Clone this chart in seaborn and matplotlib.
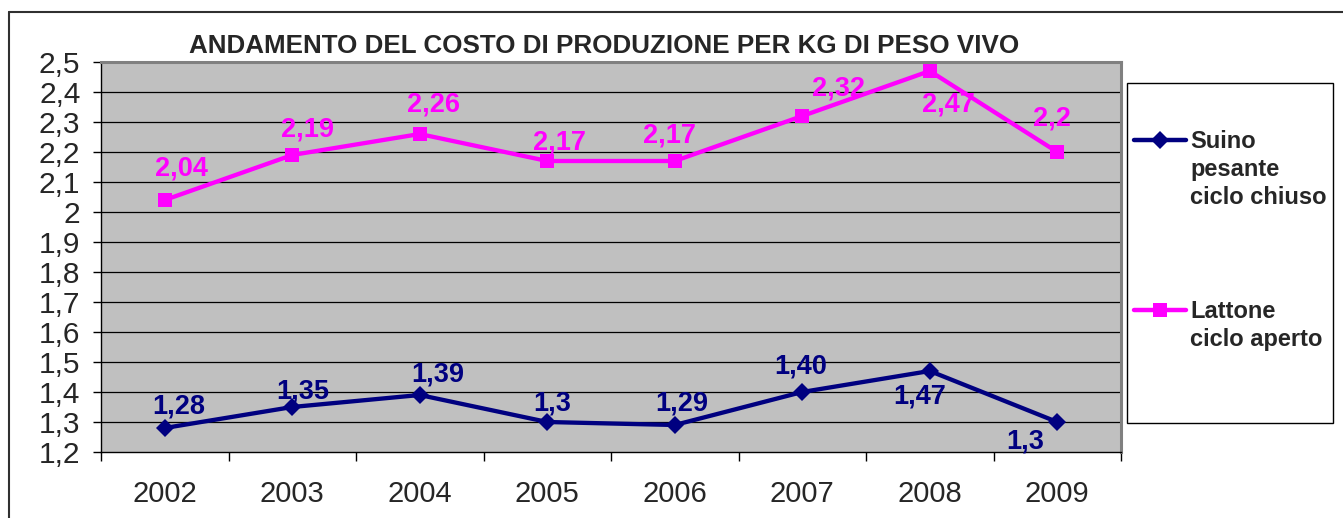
import numpy as np
import pandas as pd
import matplotlib
matplotlib.use("Agg")
import matplotlib.pyplot as plt
from matplotlib.lines import Line2D
from matplotlib.patches import Rectangle
from matplotlib.ticker import FixedLocator
import seaborn as sns

# ---- data ----
years = [2002, 2003, 2004, 2005, 2006, 2007, 2008, 2009]
suino = [1.28, 1.35, 1.39, 1.30, 1.29, 1.40, 1.47, 1.30]
lattone = [2.04, 2.19, 2.26, 2.17, 2.17, 2.32, 2.47, 2.20]
suino_labels = ["1,28", "1,35", "1,39", "1,3", "1,29", "1,40", "1,47", "1,3"]
lattone_labels = ["2,04", "2,19", "2,26", "2,17", "2,17", "2,32", "2,47", "2,2"]
series_names = ["Suino\npesante\nciclo chiuso", "Lattone\nciclo aperto"]
y_ticks = [1.2, 1.3, 1.4, 1.5, 1.6, 1.7, 1.8, 1.9, 2.0, 2.1, 2.2, 2.3, 2.4, 2.5]
y_tick_labels = ["1,2", "1,3", "1,4", "1,5", "1,6", "1,7", "1,8", "1,9", "2",
                 "2,1", "2,2", "2,3", "2,4", "2,5"]
title = "ANDAMENTO DEL COSTO DI PRODUZIONE PER KG DI PESO VIVO"

NAVY = "#000080"
MAGENTA = "#FF00FF"
GRAY = "#C0C0C0"

# label offsets in pixels (dx, dy) relative to each point
suino_off = [(14, 22), (10, 16), (18, 22), (5, 19), (7, 22), (-2, 26), (-10, -25), (-32, -19)]
lattone_off = [(17, 32), (15, 26), (14, 31), (12, 19), (-5, 26), (36, 28), (19, -33), (-5, 34)]

df = pd.DataFrame({
    "anno": years * 2,
    "costo": suino + lattone,
    "serie": [series_names[0]] * len(years) + [series_names[1]] * len(years),
})

sns.set_style("white")
plt.rcParams["font.family"] = ["Liberation Sans", "DejaVu Sans"]

W, H = 1343, 518
fig = plt.figure(figsize=(W / 100, H / 100), dpi=100)
ax = fig.add_axes([101 / W, (H - 452) / H, (1121 - 101) / W, (452 - 62) / H])
ax.set_facecolor(GRAY)

sns.lineplot(data=df, x="anno", y="costo", hue="serie", style="serie",
             palette=[NAVY, MAGENTA], markers=["D", "s"], dashes=False,
             linewidth=3.1, markeredgewidth=0, legend=False, ax=ax)
for line, ms in zip(ax.get_lines(), [9.5, 10.5]):
    line.set_markersize(ms)

ax.set_xlim(years[0] - 0.5, years[-1] + 0.5)
ax.set_ylim(y_ticks[0], y_ticks[-1])
ax.set_xlabel("")
ax.set_ylabel("")

ax.set_yticks(y_ticks)
ax.set_yticklabels(y_tick_labels, fontsize=21.5)
ax.set_xticks(years)
ax.set_xticklabels([str(y) for y in years], fontsize=21)
ax.xaxis.set_minor_locator(FixedLocator([y + 0.5 for y in [years[0] - 1] + years]))
ax.tick_params(axis="x", which="major", length=0, pad=20)
ax.tick_params(axis="x", which="minor", length=6.5, width=1, color="black", bottom=True)
ax.tick_params(axis="y", length=5.8, width=1, color="black", pad=9, left=True)

for y in y_ticks[1:-1]:
    ax.axhline(y, color="black", lw=0.9, zorder=0.5)

for side in ["left", "bottom"]:
    ax.spines[side].set_color("black")
    ax.spines[side].set_linewidth(1)
for side in ["top", "right"]:
    ax.spines[side].set_color("#808080")
    ax.spines[side].set_linewidth(2.2)

for vals, labs, offs, col in [(suino, suino_labels, suino_off, NAVY),
                              (lattone, lattone_labels, lattone_off, MAGENTA)]:
    for x, v, t, (dx, dy) in zip(years, vals, labs, offs):
        ax.annotate(t, (x, v), xytext=(dx, dy - 1), textcoords="offset pixels",
                    ha="center", va="center", fontsize=19.5, fontweight="bold",
                    color=col, annotation_clip=False)

fig.text(604 / W, 1 - 53 / H, title, ha="center", va="baseline",
         fontsize=18.7, fontweight="bold")

# legend box
fig.add_artist(Rectangle((1127 / W, 1 - 423 / H), (1333 - 1127) / W, (423 - 83) / H,
                         transform=fig.transFigure, fill=False, ec="black", lw=1))
for name, col, mk, ms, y0 in [(series_names[0], NAVY, "D", 9, 140),
                              (series_names[1], MAGENTA, "s", 10, 310)]:
    fig.add_artist(Line2D([1134 / W, 1160 / W, 1186 / W], [1 - y0 / H] * 3,
                          transform=fig.transFigure, color=col, lw=3.2,
                          marker=mk, markersize=ms, markevery=[1], mew=0))
    for i, part in enumerate(name.split("\n")):
        fig.text(1190 / W, 1 - (y0 + 8 + 28 * i) / H, part, ha="left", va="baseline",
                 fontsize=17, fontweight="bold")

# outer frame of the chart
fig.add_artist(Line2D([9 / W, 1], [1 - 12 / H, 1 - 12 / H], transform=fig.transFigure,
                      color="#303030", lw=1.5))
fig.add_artist(Line2D([9 / W, 9 / W], [0, 1 - 12 / H], transform=fig.transFigure,
                      color="#303030", lw=1.5))

fig.savefig("out.png", dpi=100)
